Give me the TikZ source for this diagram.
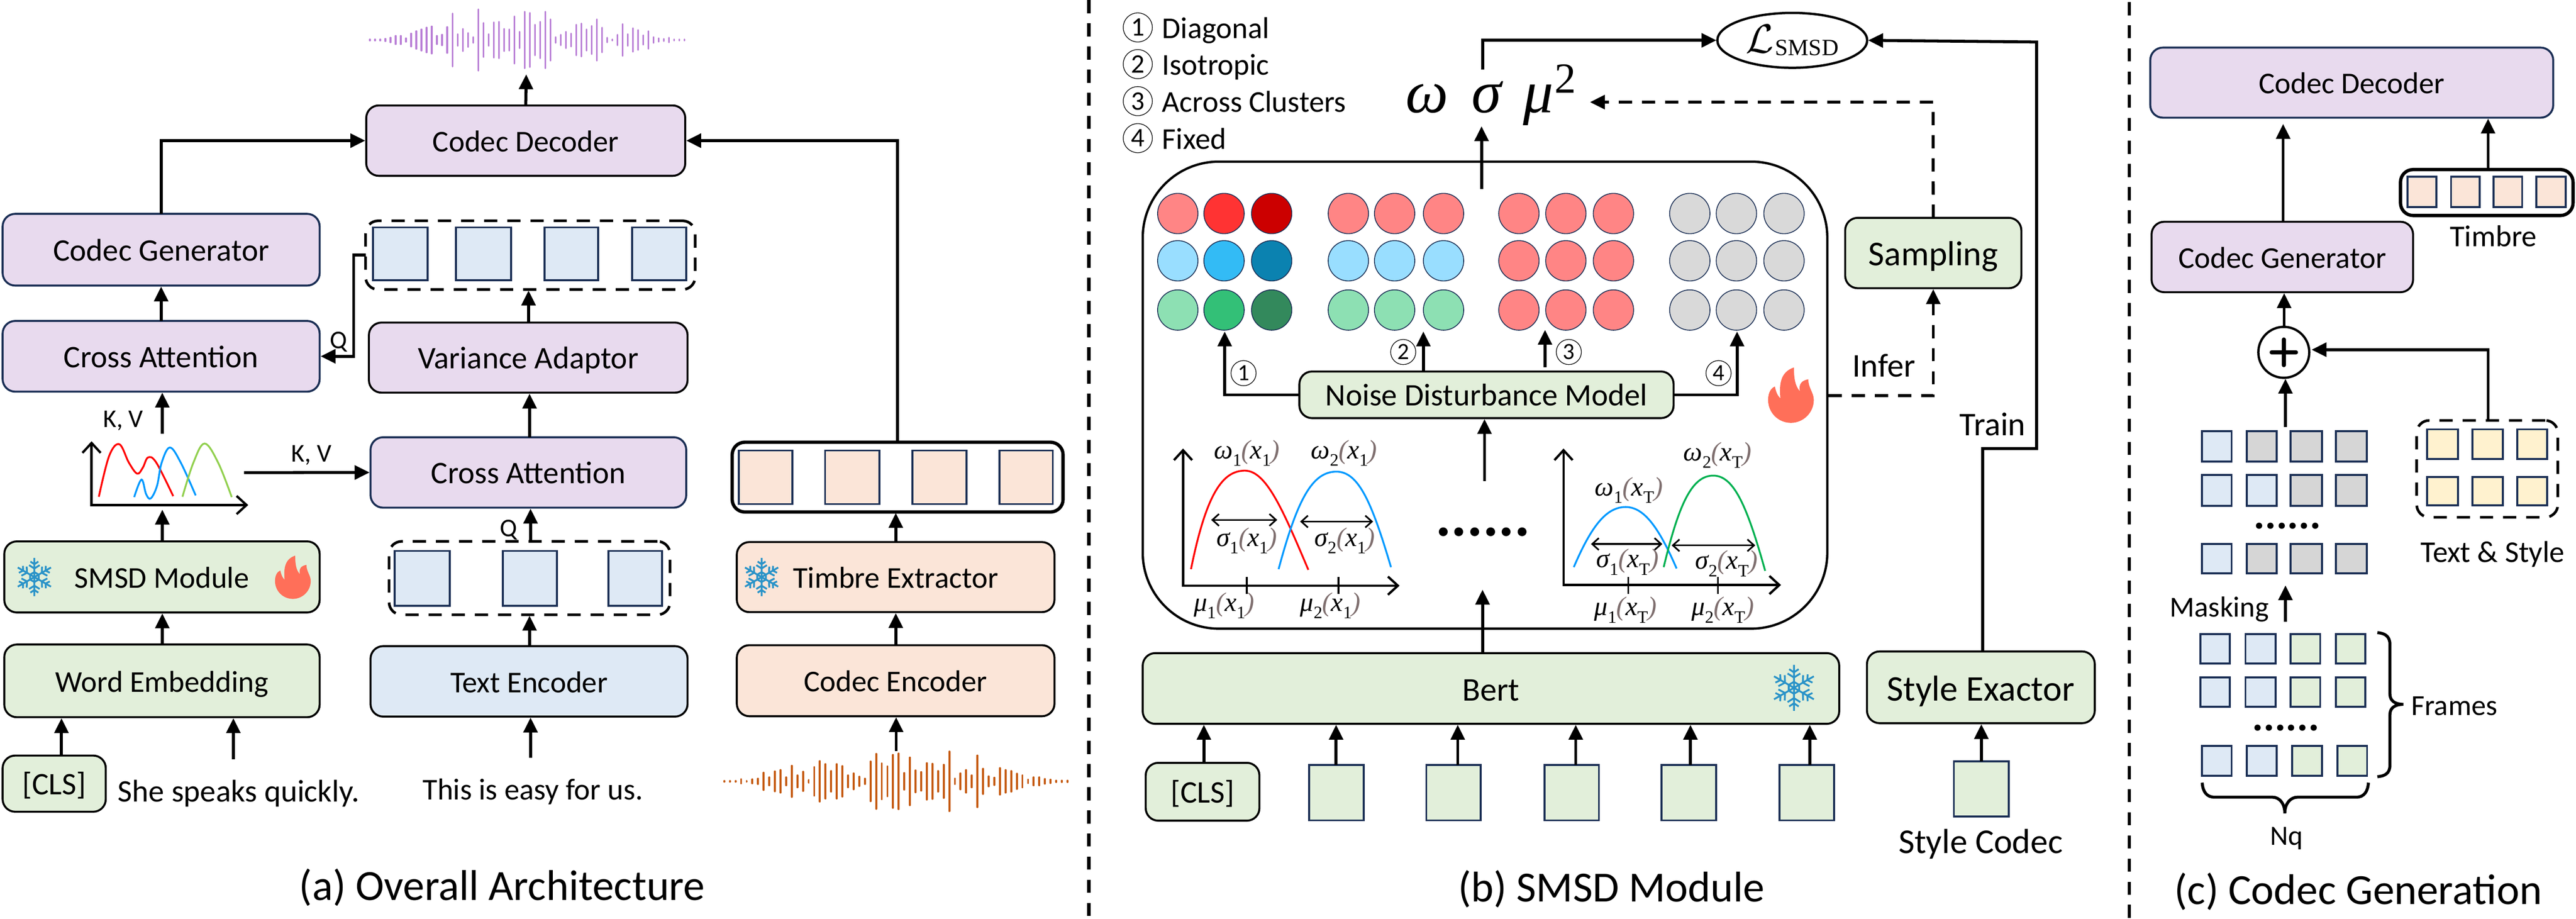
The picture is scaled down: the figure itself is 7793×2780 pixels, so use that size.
\documentclass[tikz,border=0pt]{standalone}
\usepackage{fontspec}
\usepackage{graphicx}
\usetikzlibrary{arrows.meta,shapes.geometric}
\setmainfont{Carlito}
\newfontfamily\chfont{Liberation Serif}
\definecolor{cnavy}{HTML}{1B2F55}
\definecolor{cpur}{HTML}{E8DAEE}
\definecolor{cblu}{HTML}{DEE9F5}
\definecolor{cgrn}{HTML}{E2EFDA}
\definecolor{cora}{HTML}{FBE5D8}
\definecolor{cyel}{HTML}{FFF2CF}
\definecolor{cgry}{HTML}{D6D6D6}
\definecolor{csnow}{HTML}{2A93C8}
\definecolor{cflame}{HTML}{FF6F59}
\definecolor{parc}{HTML}{7F6F6F}
\definecolor{wpur}{HTML}{B97FD6}
\definecolor{wora}{HTML}{C55A11}
\definecolor{dr1}{HTML}{FF8585}
\definecolor{dr2}{HTML}{FF3333}
\definecolor{dr3}{HTML}{CC0000}
\definecolor{db1}{HTML}{99DEFF}
\definecolor{db2}{HTML}{33BBF5}
\definecolor{db3}{HTML}{0B82B0}
\definecolor{dg1}{HTML}{8DE0B3}
\definecolor{dg2}{HTML}{33C077}
\definecolor{dg3}{HTML}{33895C}
\definecolor{dk1}{HTML}{D9D9D9}
\definecolor{cvblue}{HTML}{0099FF}
\definecolor{cvgreen}{HTML}{00B050}
\definecolor{cvlime}{HTML}{92D050}
\newcommand\fsz[1]{\fontsize{#1}{#1}\selectfont}
\newcommand\bx[7]{\pgfmathsetmacro\bxw{(#4-#2)*0.01}\pgfmathsetmacro\bxh{(#5-#3)*0.01}\pgfmathsetmacro\bxcx{(#2+#4)/2}\pgfmathsetmacro\bxcy{(#3+#5)/2}\node[#6,minimum width=\bxw cm,minimum height=\bxh cm] (#1) at (\bxcx,\bxcy) {#7};}
\newcommand\sq[6]{\bx{#1}{#2}{#3}{#4}{#5}{sqs,fill=#6}{}}
\newcommand\upar[3]{\coordinate (tmpx) at (#3,0);\draw[arr] (#1.north -| tmpx) -- (#2.south -| tmpx);}
\newcommand\wave[7]{\foreach \h [count=\i from 0] in {#7} {\draw[line width=#5,color=#4,line cap=round] ({#1+\i*#2},{#3-\h*#6}) -- ({#1+\i*#2},{#3+\h*#6});}}
\newcommand\snow[3]{\begin{scope}[shift={(#1,#2)},scale=#3]
\foreach \a in {0,60,...,300}{\begin{scope}[rotate=\a]
\draw[csnow,line width=0.055cm] (0,0)--(0,-58) (0,-26)--(-16,-36) (0,-26)--(16,-36) (0,-39)--(-12,-47) (0,-39)--(12,-47) (0,-15)--(13,-7.5);
\end{scope}}
\end{scope}}
\newcommand\flame[3]{\begin{scope}[shift={(#1,#2)},scale=#3]
\fill[cflame] (7,-69) .. controls (7,-43) and (10,-25) .. (21,-13) .. controls (18,-30) and (25,-38) .. (41,-41) .. controls (41,-20) and (54,-10) .. (54,8) .. controls (54,38) and (29,62) .. (0,62) .. controls (-30,62) and (-54,38) .. (-54,8) .. controls (-54,-10) and (-47,-20) .. (-38,-24) .. controls (-35,-10) and (-32,-3) .. (-25,4) .. controls (-28,-30) and (-25,-58) .. (7,-69) -- cycle;
\end{scope}}
\newcommand\sbs[1]{\raisebox{-.28em}{\fsz{15}\upshape #1}}
\newcommand\chl[7]{\node[chlab] (#1) at (#2,#3) {\itshape #4\sbs{#5}{\color{parc}(}#6\sbs{#7}{\color{parc})}};}
\tikzset{
 box/.style={draw=black,line width=0.06cm,rounded corners=0.38cm,inner sep=0,outer sep=0,text height=22pt,text depth=3pt,font=\fsz{26}},
 bigc/.style={font=\fsz{27}},
 sqs/.style={draw=cnavy,line width=0.06cm,inner sep=0,outer sep=0},
 dbox/.style={draw=black,line width=0.08cm,dash pattern=on 0.4cm off 0.3cm,rounded corners=0.38cm,inner sep=0,outer sep=0},
 sbox/.style={draw=black,line width=0.1cm,rounded corners=0.38cm,inner sep=0,outer sep=0},
 arr/.style={-{Triangle[length=0.45cm,width=0.42cm]},line width=0.09cm,shorten >=0.03cm},
 darr/.style={arr,dash pattern=on 0.4cm off 0.3cm},
 lab/.style={inner sep=0,outer sep=0,text height=22pt,text depth=3pt,font=\fsz{26}},
 captxt/.style={inner sep=0,outer sep=0,text height=30pt,text depth=6pt,font=\fsz{37}},
 chlab/.style={inner sep=0,outer sep=0,font=\fsz{23}\chfont},
 cn/.style={circle,draw=black,line width=0.02cm,inner sep=0,outer sep=0,minimum size=0.88cm,font=\fsz{23}},
 cns/.style={circle,draw=black,line width=0.02cm,inner sep=0,outer sep=0,minimum size=0.76cm,font=\fsz{20}},
 dotc/.style={circle,draw=cnavy,line width=0.025cm,minimum size=1.22cm,inner sep=0,outer sep=0},
 sepl/.style={line width=0.1cm,dash pattern=on 0.4cm off 0.3cm},
 axisl/.style={line width=0.07cm,{Straight Barb[length=0.3cm,width=0.55cm]}-{Straight Barb[length=0.3cm,width=0.55cm]}},
 dbl/.style={line width=0.05cm,{Straight Barb[length=0.2cm,width=0.36cm]}-{Straight Barb[length=0.2cm,width=0.36cm]}},
 crv/.style={line width=0.055cm},
 brc/.style={line width=0.09cm},
 dotsn/.style={inner sep=0,outer sep=0,anchor=base},
}
\begin{document}
\begin{tikzpicture}[x=0.01cm,y=-0.01cm]
\useasboundingbox (0,0) rectangle (7793,2780);
% ===== separators
\coordinate (s1t) at (3294,0); \coordinate (s1b) at (3294,2780);
\coordinate (s2t) at (6442,6); \coordinate (s2b) at (6442,2780);
\draw[sepl] (s1t) -- (s1b);
\draw[sepl] (s2t) -- (s2b);
% ===== panel (a)
\wave{1119}{15.6}{121}{wpur}{0.05cm}{0.893}{2,2,2,4,8,14,14,6,22,30,36,42,46,14,18,44,90,20,38,24,10,104,58,20,60,62,38,36,80,28,96,92,52,62,96,70,10,18,28,22,52,56,36,48,70,42,8,2,18,54,20,40,34,16,30,10,6,4,8,2,2,2}
\bx{deca}{1108}{319}{2073}{532}{box,fill=cpur}{Codec Decoder}
\bx{gena}{8}{647}{967}{864}{box,fill=cpur,draw=cnavy,bigc}{Codec Generator}
\bx{crossa}{8}{971}{967}{1185}{box,fill=cpur,draw=cnavy,bigc}{Cross Attention}
\bx{vdash}{1106}{668}{2103}{876}{dbox}{}
\sq{va1}{1128}{688}{1293}{848}{cblu}
\sq{va2}{1380}{688}{1546}{848}{cblu}
\sq{va3}{1647}{688}{1809}{848}{cblu}
\sq{va4}{1912}{688}{2076}{848}{cblu}
\bx{vara}{1116}{976}{2080}{1188}{box,fill=cpur,bigc}{Variance Adaptor}
\bx{crossm}{1121}{1323}{2076}{1536}{box,fill=cpur,draw=cnavy,bigc}{Cross Attention}
\bx{smsd}{13}{1638}{967}{1853}{box,fill=cgrn}{SMSD Module}
\bx{wemb}{13}{1950}{967}{2170}{box,fill=cgrn}{Word Embedding}
\bx{cls}{8}{2286}{320}{2456}{box,fill=cgrn,bigc}{[CLS]}
\bx{tdash}{1177}{1638}{2027}{1860}{dbox}{}
\sq{ta1}{1194}{1667}{1361}{1833}{cblu}
\sq{ta2}{1521}{1667}{1685}{1833}{cblu}
\sq{ta3}{1841}{1667}{2003}{1833}{cblu}
\bx{tenc}{1121}{1955}{2080}{2168}{box,fill=cblu}{Text Encoder}
\bx{tg}{2215}{1338}{3216}{1549}{sbox}{}
\sq{tb1}{2235}{1363}{2397}{1525}{cora}
\sq{tb2}{2496}{1363}{2660}{1525}{cora}
\sq{tb3}{2760}{1363}{2924}{1525}{cora}
\sq{tb4}{3024}{1363}{3185}{1525}{cora}
\bx{tex}{2229}{1640}{3190}{1852}{box,fill=cora}{Timbre Extractor}
\bx{cenc}{2229}{1952}{3190}{2167}{box,fill=cora}{Codec Encoder}
\wave{2191}{17.02}{2364}{wora}{0.06cm}{1}{1,1,1,6,1,6,8,26,12,30,34,12,47,18,29,4,43,61,52,31,52,46,18,24,14,8,60,83,54,45,80,84,25,72,33,28,55,53,31,50,90,8,24,34,18,78,38,15,11,40,34,31,23,18,5,12,12,7,5,2,2,2}
\snow{104}{1746}{1}
\flame{886}{1750}{1}
\snow{2304}{1746}{1}
\node[lab,font=\fsz{27}] (shes) at (722,2392) {She speaks quickly.};
\node[lab] (thise) at (1612,2386) {This is easy for us.};
\node[lab,font=\fsz{22},text height=17pt] (kv1) at (373,1268) {K, V};
\node[lab,font=\fsz{22},text height=17pt] (kv2) at (942,1372) {K, V};
\node[lab,font=\fsz{22},text height=17pt] (q1) at (1025,1030) {Q};
\node[lab,font=\fsz{22},text height=17pt] (q2) at (1539,1598) {Q};
\node[captxt] (capa) at (1519,2681) {(a) Overall Architecture};
% mini chart
\coordinate (mct) at (277,1335); \coordinate (mco) at (277,1528); \coordinate (mcr) at (751,1528);
\draw[axisl] (mct) -- (mco) -- (mcr);
\draw[crv,color=red] plot[smooth,tension=0.6] coordinates {(299,1503) (330,1380) (361,1344) (390,1400) (415,1433) (432,1415) (448,1384) (473,1400) (524,1501)};
\draw[crv,color=cvblue] plot[smooth,tension=0.6] coordinates {(406,1504) (428,1451) (442,1495) (456,1508) (475,1470) (489,1400) (514,1354) (547,1400) (592,1499)};
\draw[crv,color=cvlime] plot[smooth,tension=0.6] coordinates {(552,1503) (585,1400) (619,1342) (660,1400) (701,1504)};
% connectors (a)
\coordinate (wavea) at (1592,222);
\draw[arr] (deca.north) -- (wavea);
\draw[arr] (gena.north) |- (deca.west);
\coordinate (tbx) at (2715,1338);
\draw[arr] (tbx) |- (deca.east);
\draw[arr] (crossa.north) -- (gena.south);
\draw[arr] (vdash.west) -- ++(-36,0) |- (crossa.east);
\upar{vara}{vdash}{1599}
\upar{crossm}{vara}{1602}
\coordinate (chartt) at (491,1312);
\draw[arr] (chartt) -- (crossa.south -| chartt);
\coordinate (chartr) at (738,1430);
\draw[arr] (chartr) -- (crossm.west);
\coordinate (chartb) at (491,1539);
\draw[arr] (smsd.north -| chartb) -- (chartb);
\upar{wemb}{smsd}{491}
\upar{cls}{wemb}{186}
\coordinate (shetop) at (706,2298);
\draw[arr] (shetop) -- (wemb.south -| shetop);
\coordinate (thistop) at (1605,2292);
\draw[arr] (thistop) -- (tenc.south -| thistop);
\upar{tenc}{tdash}{1602}
\upar{tdash}{crossm}{1605}
\upar{tex}{tg}{2710}
\upar{cenc}{tex}{2710}
\coordinate (wavet) at (2711,2272);
\draw[arr] (wavet) -- (cenc.south -| wavet);
% ===== panel (b)
\foreach \y/\t [count=\i] in {83/Diagonal,194/Isotropic,306/Across Clusters,418/Fixed}{
 \node[cn] (lc\i) at (3442,\y) {\i};
 \node[lab,anchor=west] (lt\i) at (3516,\y) {\t};
}
\node[ellipse,draw=black,line width=0.07cm,minimum width=4.53cm,minimum height=1.66cm,inner sep=0,outer sep=0] (lsmsd) at (5422,122) {\fsz{10}\raisebox{-3pt}{\scalebox{3.5}{$\mathcal{L}$}}\hspace{1pt}\raisebox{-5pt}{\fsz{20}\chfont SMSD}};
\node[inner sep=0,outer sep=0,anchor=base west] (wsm) at (4252,340) {\fsz{52}\chfont\itshape ω\hspace{20pt}σ\hspace{19pt}μ\hspace{1pt}\raisebox{16.5pt}{\fsz{37}\upshape 2}};
\draw[line width=0.07cm,rounded corners=2.3cm] (3457,489) rectangle (5528,1902);
\coordinate (bbe) at (5532,1197);
% dots
\foreach \r/\y/\ca/\cb/\cc/\cd/\ce/\cf/\cg/\ch in {1/646/dr1/dr2/dr3/dr1/dr1/dr1/dr1/dr1,2/789/db1/db2/db3/db1/db1/db1/dr1/dr1,3/938/dg1/dg2/dg3/dg1/dg1/dg1/dr1/dr1}{
 \node[dotc,fill=\ca] (d\r a) at (3563,\y) {};
 \node[dotc,fill=\cb] (d\r b) at (3703,\y) {};
 \node[dotc,fill=\cc] (d\r c) at (3847,\y) {};
 \node[dotc,fill=\cd] (d\r d) at (4079,\y) {};
 \node[dotc,fill=\ce] (d\r e) at (4219,\y) {};
 \node[dotc,fill=\cf] (d\r f) at (4367,\y) {};
 \node[dotc,fill=\cg] (d\r g) at (4595,\y) {};
 \node[dotc,fill=\ch] (d\r h) at (4737,\y) {};
 \node[dotc,fill=\ch] (d\r i) at (4881,\y) {};
 \node[dotc,fill=dk1] (d\r j) at (5112,\y) {};
 \node[dotc,fill=dk1] (d\r k) at (5253,\y) {};
 \node[dotc,fill=dk1] (d\r l) at (5397,\y) {};
}
\bx{ndm}{3931}{1124}{5063}{1265}{box,fill=cgrn,bigc}{Noise Disturbance Model}
\flame{5418}{1200}{1.28}
\node[cns] (m1) at (3762,1129) {1};
\node[cns] (m2) at (4245,1065) {2};
\node[cns] (m3) at (4746,1065) {3};
\node[cns] (m4) at (5199,1129) {4};
\bx{samp}{5582}{659}{6115}{872}{box,fill=cgrn,font=\fsz{30},text height=25pt}{Sampling}
\node[lab,font=\fsz{28.5}] (inf) at (5699,1107) {Infer};
\node[lab,font=\fsz{28.5}] (trn) at (6028,1284) {Train};
% charts
\coordinate (c1t) at (3579,1357); \coordinate (c1o) at (3579,1772); \coordinate (c1r) at (4234,1772);
\draw[axisl] (c1t) -- (c1o) -- (c1r);
\draw[line width=0.06cm] (3772,1746) -- (3772,1797) (4049,1746) -- (4049,1797);
\draw[crv,red] (3603,1722) .. controls (3650,1490) and (3700,1424) .. (3766,1424) .. controls (3830,1424) and (3880,1540) .. (3958,1724);
\draw[crv,color=cvblue] (3868,1722) .. controls (3925,1510) and (3970,1427) .. (4043,1427) .. controls (4110,1427) and (4150,1520) .. (4208,1716);
\coordinate (a1l) at (3664,1573); \coordinate (a1r) at (3864,1573); \coordinate (a2l) at (3933,1578); \coordinate (a2r) at (4154,1578);
\draw[dbl] (a1l) -- (a1r);
\draw[dbl] (a2l) -- (a2r);
\chl{w1a}{3772}{1371}{ω}{1}{x}{1}
\chl{w2a}{4066}{1371}{ω}{2}{x}{1}
\chl{s1a}{3772}{1636}{σ}{1}{x}{1}
\chl{s2a}{4068}{1636}{σ}{2}{x}{1}
\chl{m1a}{3703}{1832}{μ}{1}{x}{1}
\chl{m2a}{4025}{1832}{μ}{2}{x}{1}
\coordinate (c2t) at (4730,1357); \coordinate (c2o) at (4730,1770); \coordinate (c2r) at (5388,1770);
\draw[axisl] (c2t) -- (c2o) -- (c2r);
\draw[line width=0.06cm] (4926,1746) -- (4926,1797) (5197,1746) -- (5197,1797);
\draw[crv,color=cvblue] (4761,1716) .. controls (4815,1590) and (4860,1534) .. (4918,1534) .. controls (4975,1534) and (5020,1600) .. (5072,1720);
\draw[crv,color=cvgreen] (5033,1716) .. controls (5080,1520) and (5120,1439) .. (5183,1439) .. controls (5245,1439) and (5285,1530) .. (5340,1727);
\coordinate (a3l) at (4813,1646); \coordinate (a3r) at (5029,1646); \coordinate (a4l) at (5057,1650); \coordinate (a4r) at (5310,1650);
\draw[dbl] (a3l) -- (a3r);
\draw[dbl] (a4l) -- (a4r);
\chl{w2b}{5196}{1377}{ω}{2}{x}{T}
\chl{w1b}{4928}{1483}{ω}{1}{x}{T}
\chl{s1b}{4924}{1700}{σ}{1}{x}{T}
\chl{s2b}{5223}{1705}{σ}{2}{x}{T}
\chl{m1b}{4918}{1845}{μ}{1}{x}{T}
\chl{m2b}{5212}{1845}{μ}{2}{x}{T}
\node[dotsn,font=\fsz{51}\bfseries] (bdots) at (4486,1622) {......};
% lower row b
\bx{bert}{3457}{1976}{5564}{2190}{box,fill=cgrn,font=\fsz{28.5},text height=24pt}{Bert}
\snow{5427}{2081}{1.2}
\bx{cls2}{3466}{2308}{3810}{2483}{box,fill=cgrn,bigc}{[CLS]}
\sq{bs1}{3960}{2315}{4125}{2482}{cgrn}
\sq{bs2}{4315}{2315}{4480}{2482}{cgrn}
\sq{bs3}{4672}{2315}{4837}{2482}{cgrn}
\sq{bs4}{5027}{2315}{5192}{2482}{cgrn}
\sq{bs5}{5384}{2315}{5549}{2482}{cgrn}
\bx{style}{5648}{1971}{6337}{2188}{box,fill=cgrn,font=\fsz{31},text height=26pt}{Style Exactor}
\sq{ssq}{5911}{2303}{6077}{2470}{cgrn}
\node[lab,font=\fsz{30}] (scod) at (5992,2548) {Style Codec};
\node[captxt] (capb) at (4875,2686) {(b) SMSD Module};
% connectors (b)
\upar{cls2}{bert}{3642}
\upar{bs1}{bert}{4042}
\upar{bs2}{bert}{4410}
\upar{bs3}{bert}{4767}
\upar{bs4}{bert}{5114}
\upar{bs5}{bert}{5475}
\upar{ssq}{style}{5994}
\coordinate (bbin) at (4485,1781);
\draw[arr] (bert.north -| bbin) -- (bbin);
\coordinate (ndin) at (4491,1456);
\draw[arr] (ndin) -- (ndm.south -| ndin);
\coordinate (wsmin) at (4482,379);
\coordinate (bbout) at (4482,572);
\draw[arr] (bbout) -- (wsmin);
\coordinate (wsmt) at (4485,211);
\draw[arr] (wsmt) |- (lsmsd.west);
\coordinate (trn1) at (5998,1357); \coordinate (trn2) at (6161,1357); \coordinate (trn3) at (6161,127);
\draw[arr] (style.north -| trn1) -- (trn1) -- (trn2) -- (trn3) -- (lsmsd.east);
\coordinate (smp1) at (5848,309); \coordinate (smp2) at (4807,309);
\draw[darr] (samp.north) -- (smp1) -- (smp2);
\draw[darr] (bbe) -| (samp.south);
\coordinate (dot1) at (3705,1000);
\draw[arr] (ndm.west) -| (dot1);
\coordinate (dot4) at (5255,1000);
\draw[arr] (ndm.east) -| (dot4);
\coordinate (dot2) at (4306,1000); \coordinate (dot2b) at (4306,1124);
\draw[arr] (dot2b) -- (dot2);
\coordinate (dot3) at (4674,995); \coordinate (dot3b) at (4674,1111);
\draw[arr] (dot3b) -- (dot3);
% ===== panel (c)
\bx{decc}{6505}{144}{7724}{356}{box,fill=cpur,draw=cnavy}{Codec Decoder}
\bx{genc}{6509}{671}{7300}{884}{box,fill=cpur}{Codec Generator}
\bx{tgc}{7262}{513}{7784}{652}{sbox}{}
\sq{tc1}{7283}{534}{7370}{626}{cora}
\sq{tc2}{7415}{534}{7502}{626}{cora}
\sq{tc3}{7543}{534}{7630}{626}{cora}
\sq{tc4}{7673}{534}{7762}{626}{cora}
\node[lab] (timb) at (7543,712) {Timbre};
\node[circle,draw=black,line width=0.07cm,minimum size=1.54cm,inner sep=0,outer sep=0] (plusc) at (6909,1066) {};
\draw[line width=0.12cm,line cap=round] (6872,1066) -- (6946,1066) (6909,1027) -- (6909,1105);
\bx{tsg}{7311}{1272}{7738}{1565}{dbox}{}
\sq{ts1}{7342}{1299}{7436}{1389}{cyel}
\sq{ts2}{7479}{1299}{7572}{1389}{cyel}
\sq{ts3}{7615}{1299}{7705}{1389}{cyel}
\sq{ts4}{7342}{1443}{7436}{1529}{cyel}
\sq{ts5}{7479}{1443}{7572}{1529}{cyel}
\sq{ts6}{7615}{1443}{7705}{1529}{cyel}
\node[lab] (tstx) at (7541,1668) {Text \& Style};
\foreach \r/\yt/\yb/\ca/\cb/\cc/\cd in {1/1304/1396/cblu/cgry/cgry/cgry,2/1437/1530/cblu/cblu/cgry/cgry,3/1646/1735/cblu/cgry/cgry/cgry}{
 \sq{ga\r}{6662}{\yt}{6751}{\yb}{\ca}
 \sq{gb\r}{6797}{\yt}{6888}{\yb}{\cb}
 \sq{gc\r}{6929}{\yt}{7024}{\yb}{\cc}
 \sq{gd\r}{7066}{\yt}{7160}{\yb}{\cd}
}
\node[dotsn,font=\fsz{36}\bfseries] (gdots1) at (6920,1600) {......};
\foreach \r/\yt/\yb/\xa/\xb/\xc/\xd in {1/1918/2007/6657/6793/6929/7066,2/2049/2138/6657/6793/6929/7066,3/2257/2347/6662/6797/6934/7071}{
 \pgfmathsetmacro\xaa{\xa+89}\pgfmathsetmacro\xbb{\xb+91}\pgfmathsetmacro\xcc{\xc+90}\pgfmathsetmacro\xdd{\xd+90}
 \sq{ha\r}{\xa}{\yt}{\xaa}{\yb}{cblu}
 \sq{hb\r}{\xb}{\yt}{\xbb}{\yb}{cblu}
 \sq{hc\r}{\xc}{\yt}{\xcc}{\yb}{cgrn}
 \sq{hd\r}{\xd}{\yt}{\xdd}{\yb}{cgrn}
}
\node[dotsn,font=\fsz{36}\bfseries] (gdots2) at (6915,2211) {......};
\draw[brc] (7192,1914) .. controls (7215,1916) and (7230,1925) .. (7230,1950) -- (7230,2100) .. controls (7230,2120) and (7245,2131) .. (7271,2131) .. controls (7245,2131) and (7230,2142) .. (7230,2162) -- (7230,2315) .. controls (7230,2340) and (7215,2348) .. (7192,2350);
\draw[brc] (6662,2368) .. controls (6664,2395) and (6675,2412) .. (6700,2412) -- (6875,2412) .. controls (6895,2412) and (6912,2430) .. (6912,2461) .. controls (6912,2430) and (6930,2412) .. (6950,2412) -- (7128,2412) .. controls (7152,2412) and (7163,2395) .. (7165,2368);
\node[lab,anchor=west,font=\fsz{25}] (frm) at (7295,2131) {Frames};
\node[lab,font=\fsz{24}] (nq) at (6917,2524) {Nq};
\node[lab,font=\fsz{25}] (msk) at (6714,1833) {Masking};
\node[captxt] (capc) at (7134,2694) {(c) Codec Generation};
% connectors (c)
\coordinate (gcx) at (6907,372);
\draw[arr] (genc.north -| gcx) -- (gcx);
\upar{tgc}{decc}{7527}
\upar{plusc}{genc}{6910}
\coordinate (pin) at (6914,1292);
\draw[arr] (pin) -- (plusc.south -| pin);
\coordinate (tsout) at (7527,1272); \coordinate (pright) at (6990,1058);
\draw[arr] (tsout) |- (pright);
\coordinate (mskb) at (6914,1881); \coordinate (mskt) at (6914,1768);
\draw[arr] (mskb) -- (mskt);
\end{tikzpicture}
\end{document}
